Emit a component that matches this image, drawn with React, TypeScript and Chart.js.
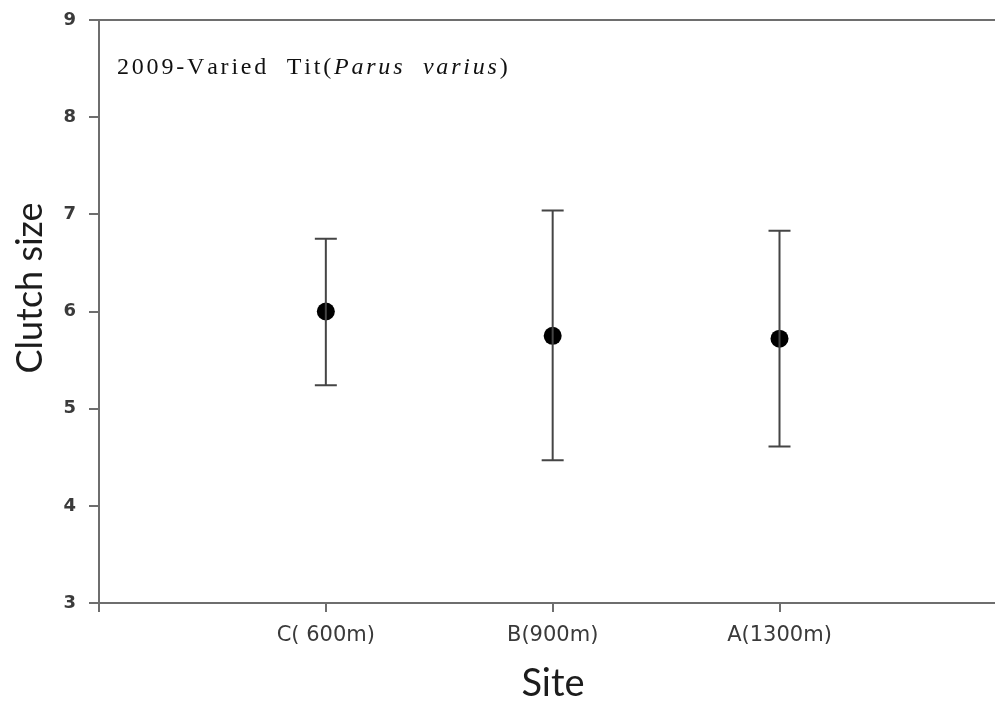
import React, { useEffect, useRef } from "react";
import { Chart, registerables } from "chart.js";

Chart.register(...registerables);

const siteLabels = ["C( 600m)", "B(900m)", "A(1300m)"];
const sitePositions = [1, 2, 3];
const meanClutch = [6.0, 5.75, 5.72];
const upperClutch = [6.75, 7.04, 6.83];
const lowerClutch = [5.24, 4.47, 4.61];
const yTicks = [3, 4, 5, 6, 7, 8, 9];

const AXIS_COLOR = "#6e6e6e";

const errorBarPlugin = {
  id: "errorBars",
  afterDatasetsDraw(chart: any) {
    const { ctx, scales, chartArea } = chart;
    const xs = scales.x;
    const ys = scales.y;
    ctx.save();
    // top border line
    ctx.strokeStyle = AXIS_COLOR;
    ctx.lineWidth = 2;
    ctx.beginPath();
    ctx.moveTo(chartArea.left, chartArea.top);
    ctx.lineTo(chartArea.right, chartArea.top);
    ctx.stroke();
    // error bars
    ctx.strokeStyle = "#454545";
    ctx.lineWidth = 2;
    const cap = 11;
    sitePositions.forEach((p, i) => {
      const x = xs.getPixelForValue(p);
      const yt = ys.getPixelForValue(upperClutch[i]);
      const yb = ys.getPixelForValue(lowerClutch[i]);
      ctx.beginPath();
      ctx.moveTo(x, yt);
      ctx.lineTo(x, yb);
      ctx.moveTo(x - cap, yt);
      ctx.lineTo(x + cap, yt);
      ctx.moveTo(x - cap, yb);
      ctx.lineTo(x + cap, yb);
      ctx.stroke();
    });
    ctx.restore();
  },
  afterDraw(chart: any) {
    const { ctx } = chart;
    ctx.save();
    // axis titles
    ctx.fillStyle = "#1c1c1c";
    ctx.font = "38px Lato";
    ctx.textAlign = "center";
    ctx.textBaseline = "alphabetic";
    ctx.fillText("Site", 553, 696);
    ctx.translate(42, 288);
    ctx.rotate(-Math.PI / 2);
    ctx.font = "36px Lato";
    ctx.fillText("Clutch size", 0, 0);
    ctx.restore();

    // in-plot title
    ctx.save();
    ctx.fillStyle = "#111";
    ctx.textAlign = "left";
    ctx.textBaseline = "alphabetic";
    const parts = [
      { t: "2009-Varied  Tit(", f: "24px 'Liberation Serif'" },
      { t: "Parus  varius", f: "italic 24px 'Liberation Serif'" },
      { t: ")", f: "24px 'Liberation Serif'" },
    ];
    let natural = 0;
    let chars = 0;
    parts.forEach((p) => {
      ctx.font = p.f;
      natural += ctx.measureText(p.t).width;
      chars += p.t.length;
    });
    const targetWidth = 390;
    const spacing = Math.max(0, (targetWidth - natural) / chars);
    let x = 117;
    parts.forEach((p) => {
      ctx.font = p.f;
      for (const ch of p.t) {
        ctx.fillText(ch, x, 74);
        x += ctx.measureText(ch).width + spacing;
      }
    });
    ctx.restore();
  },
};

export default function App() {
  const ref = useRef<HTMLCanvasElement | null>(null);
  useEffect(() => {
    document.body.style.margin = "0";
    const canvas = ref.current!;
    const chart = new Chart(canvas, {
      type: "scatter",
      data: {
        datasets: [
          {
            data: sitePositions.map((x, i) => ({ x, y: meanClutch[i] })),
            pointRadius: 9,
            pointHoverRadius: 9,
            backgroundColor: "#000",
            borderColor: "#000",
            borderWidth: 0,
            clip: false,
          },
        ],
      },
      options: {
        animation: false,
        responsive: false,
        maintainAspectRatio: false,
        devicePixelRatio: 1,
        layout: { autoPadding: false, padding: { top: 20, left: 0, right: 0, bottom: 0 } },
        plugins: {
          legend: { display: false },
          tooltip: { enabled: false },
          title: { display: false },
        },
        scales: {
          x: {
            type: "linear",
            min: 0,
            max: 3.95,
            afterBuildTicks: (s: any) => {
              s.ticks = [0, ...sitePositions].map((v) => ({ value: v }));
            },
            afterFit: (s: any) => {
              s.height = 99;
              s.paddingLeft = 0;
              s.paddingRight = 0;
            },
            ticks: {
              autoSkip: false,
              maxRotation: 0,
              padding: 11,
              color: "#3a3a3a",
              font: { family: "'DejaVu Sans'", size: 21 },
              callback: (v: any) => {
                const i = sitePositions.indexOf(Number(v));
                return i >= 0 ? siteLabels[i] : "";
              },
            },
            grid: {
              drawOnChartArea: false,
              drawTicks: true,
              tickLength: 9,
              color: AXIS_COLOR,
              lineWidth: 2,
            },
            border: { display: true, color: AXIS_COLOR, width: 2 },
          },
          y: {
            type: "linear",
            min: 3,
            max: 9,
            afterBuildTicks: (s: any) => {
              s.ticks = yTicks.map((v) => ({ value: v }));
            },
            afterFit: (s: any) => {
              s.width = 99;
              s.paddingTop = 0;
              s.paddingBottom = 0;
            },
            ticks: {
              padding: 13,
              color: "#3a3a3a",
              font: { family: "'DejaVu Sans'", size: 18, weight: "bold" },
            },
            grid: {
              drawOnChartArea: false,
              drawTicks: true,
              tickLength: 10,
              color: AXIS_COLOR,
              lineWidth: 2,
            },
            border: { display: true, color: AXIS_COLOR, width: 2 },
          },
        },
      },
      plugins: [errorBarPlugin],
    });
    return () => chart.destroy();
  }, []);
  return (
    <div style={{ position: "absolute", left: 0, top: 0, width: 995, height: 702, background: "#fff" }}>
      <canvas ref={ref} width={995} height={702} style={{ width: 995, height: 702 }} />
    </div>
  );
}
